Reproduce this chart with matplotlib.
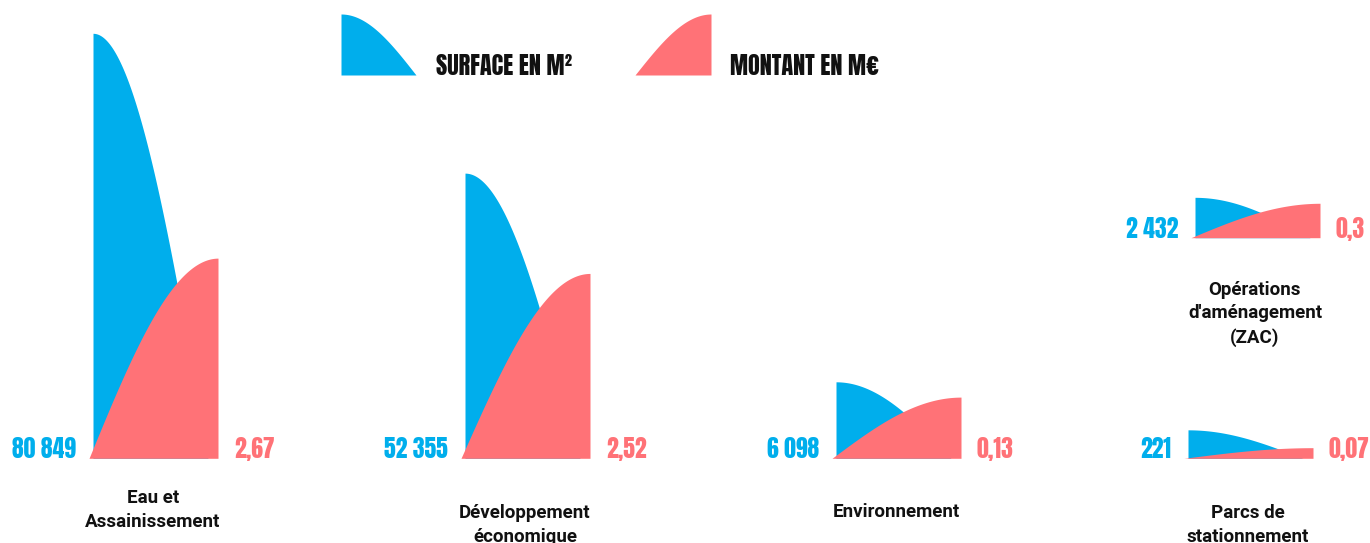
import numpy as np
import matplotlib.pyplot as plt

# Surfaces (m2) and amounts (M EUR) per category
categories = ['Eau et\nAssainissement', 'Développement\néconomique', 'Environnement',
              "Opérations\nd'aménagement\n(ZAC)", 'Parcs de\nstationnement']
surface = [80849, 52355, 6098, 2432, 221]
montant = [2.67, 2.52, 0.13, 0.3, 0.07]
# shape heights as drawn in the source, in % of the tallest shape
surface_drawn = [100, 67.1, 18.0, 9.5, 6.7]
montant_drawn = [47.1, 43.5, 14.4, 8.1, 2.5]

blue = '#00AEEC'
pink = '#FF7277'

# layout in pixels
x0 = [93, 465, 836, 1195, 1188]
base = [458.3, 458.3, 458.3, 237.7, 458.3]
label_y = [504, 519, 517, 297, 519]  # baseline of the first line
line_px = 23
px_per_pct = 4.25
w_blue, w_pink = 115, 129

num_font = ['Anton', 'Oswald', 'Liberation Sans', 'DejaVu Sans']
cat_font = ['Roboto', 'DejaVu Sans']

fig = plt.figure(figsize=(13.7, 5.43), dpi=100)
ax = fig.add_axes([0, 0, 1, 1])
ax.set_xlim(0, 1370)
ax.set_ylim(543, 0)
ax.axis('off')

t = np.linspace(0, 1, 200)


def blue_shape(x, y, h, w):
    xs = x + t * w
    ys = y - h * np.cos(np.pi / 2 * t)
    ax.fill_between(xs, y, ys, color=blue, lw=0)


def pink_shape(x, y, h, w):
    xs = x + t * w
    ys = y - h * np.sin(np.pi / 2 * t)
    ax.fill_between(xs, y, ys, color=pink, lw=0)


for i in range(len(categories)):
    blue_shape(x0[i], base[i], surface_drawn[i] * px_per_pct, w_blue)
    pink_shape(x0[i] - 4, base[i], montant_drawn[i] * px_per_pct, w_pink)
    s_txt = f'{surface[i]:,}'.replace(',', ' ')
    m_txt = str(montant[i]).replace('.', ',')
    ax.text(x0[i] - 17, base[i], s_txt, color=blue, ha='right', va='baseline',
            fontsize=17, family=num_font)
    ax.text(x0[i] + 141, base[i], m_txt, color=pink, ha='left', va='baseline',
            fontsize=17, family=num_font)
    # matplotlib puts the last line on the baseline
    n = categories[i].count('\n')
    ax.text(x0[i] + 60, label_y[i] + n * line_px, categories[i], ha='center',
            va='baseline', fontsize=13.5, fontweight='bold', family=cat_font,
            linespacing=1.4, color='#111111')

# legend
blue_shape(341, 75, 61, 75)
pink_shape(635, 75, 61, 76)
ax.text(436, 75, 'SURFACE EN M²', ha='left', va='baseline', fontsize=17.5,
        family=num_font, color='#111111')
ax.text(730, 75, 'MONTANT EN M€', ha='left', va='baseline', fontsize=17.5,
        family=num_font, color='#111111')

plt.savefig('out.png', dpi=100)
